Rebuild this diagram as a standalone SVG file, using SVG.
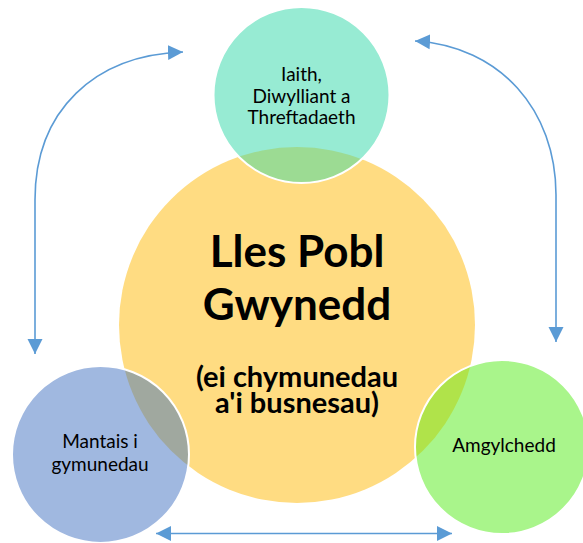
<svg xmlns="http://www.w3.org/2000/svg" width="583" height="543" viewBox="0 0 583 543">
<style>
  .lbl { font-family: Lato, "Open Sans", "Liberation Sans", sans-serif; fill: #000; text-anchor: middle; }
  .small { font-size: 19px; }
  .big { font-size: 44px; font-weight: bold; }
  .sub { font-size: 29px; font-weight: bold; }
  .outline { fill: none; stroke: #fff; stroke-width: 2; }
  .conn { fill: none; stroke: #5B9BD5; stroke-width: 1.6; marker-start: url(#ah); marker-end: url(#ah); }
</style>
<defs>
  <clipPath id="clipBig"><circle cx="297" cy="325" r="178"/></clipPath>
  <marker id="ah" viewBox="0 0 16 16" refX="15" refY="8" markerWidth="16" markerHeight="16" markerUnits="userSpaceOnUse" orient="auto-start-reverse">
    <path d="M0,0.5 L15,8 L0,15.5 Z" fill="#5B9BD5"/>
  </marker>
</defs>
<rect width="583" height="543" fill="#fff"/>
<g id="node-lles">
  <circle cx="297" cy="325" r="178" fill="#FFDC82"/>
  <text class="lbl big" x="297" y="267">Lles Pobl</text>
  <text class="lbl big" x="297" y="320">Gwynedd</text>
  <text class="lbl sub" x="297" y="387">(ei chymunedau</text>
  <text class="lbl sub" x="297" y="413">a'i busnesau)</text>
</g>
<g id="node-iaith">
  <circle cx="301.5" cy="95" r="88" fill="#97EBD3"/>
  <circle cx="301.5" cy="95" r="88" fill="#9CDB93" clip-path="url(#clipBig)"/>
  <circle class="outline" cx="301.5" cy="95" r="88"/>
  <text class="lbl small" x="301.5" y="81">Iaith,</text>
  <text class="lbl small" x="301.5" y="102.5">Diwylliant a</text>
  <text class="lbl small" x="301.5" y="124">Threftadaeth</text>
</g>
<g id="node-mantais">
  <circle cx="100.5" cy="454.5" r="88.5" fill="#A0B8E0"/>
  <circle cx="100.5" cy="454.5" r="88.5" fill="#A0A89F" clip-path="url(#clipBig)"/>
  <circle class="outline" cx="100.5" cy="454.5" r="88.5"/>
  <text class="lbl small" x="100" y="448">Mantais i</text>
  <text class="lbl small" x="100" y="471">gymunedau</text>
</g>
<g id="node-amgylchedd">
  <circle cx="502" cy="447" r="87" fill="#A9F58B"/>
  <circle cx="502" cy="447" r="87" fill="#B0E34A" clip-path="url(#clipBig)"/>
  <circle class="outline" cx="502" cy="447" r="87"/>
  <text class="lbl small" x="504" y="452">Amgylchedd</text>
</g>
<g id="connectors">
  <path class="conn" d="M183,52 C95,55 35,110 35,200 L35,354"/>
  <path class="conn" d="M415,41 C500,46 556,110 556,195 L556,342"/>
  <path class="conn" d="M156,533.5 L452,533.5"/>
</g>
</svg>
